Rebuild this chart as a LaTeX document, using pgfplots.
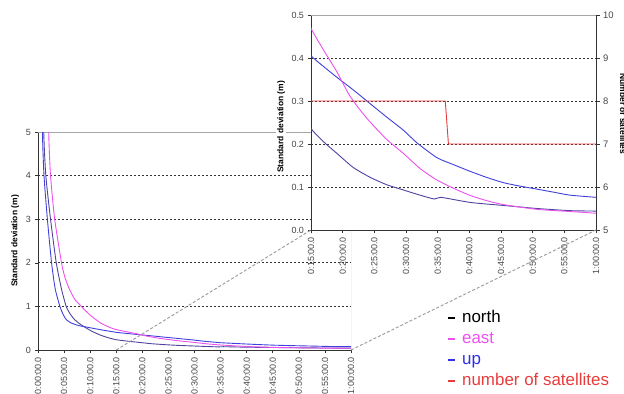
\documentclass[border=0pt]{standalone}
\usepackage{fontspec}
\setmainfont{Liberation Sans}
\usepackage{pgfplots}
\usepackage{pgfplotstable}
\pgfplotsset{compat=1.18}
\definecolor{cnorth}{RGB}{78,68,160}
\definecolor{cup}{RGB}{64,64,220}
\definecolor{ceast}{RGB}{238,80,238}
\definecolor{csat}{RGB}{232,60,60}
\definecolor{tkc}{RGB}{70,70,70}
\newcommand\tk{\fontsize{9}{10}\selectfont}
\newcommand\lb{\fontsize{8.5}{10}\selectfont\bfseries}

\pgfplotstableread{
t v
0.9 7
1.1 5
1.5 4
2.4 3
3.5 2
4.5 1.4
5.4 1
6.2 0.82
7 0.7
8 0.6
9.3 0.5
10.5 0.42
12 0.34
13.5 0.28
15 0.236
17 0.205
19.1 0.178
21.7 0.145
24.4 0.122
27 0.105
29.6 0.093
32 0.082
34.5 0.072
35.5 0.076
40.2 0.064
45.4 0.057
50.7 0.050
55.9 0.045
60 0.044
}\north

\pgfplotstableread{
t v
0.7 7
0.85 5
1.15 4
1.8 3
2.6 2
3.3 1.4
4.2 1
4.8 0.82
5.4 0.7
6.2 0.63
7 0.59
8 0.555
10 0.51
12 0.465
13.5 0.435
15 0.405
17 0.38
19.1 0.355
22 0.322
24.4 0.293
27 0.262
29.6 0.232
31.7 0.203
34.9 0.168
37.5 0.152
40.2 0.136
42.8 0.122
45.4 0.110
48 0.102
50.7 0.095
53.3 0.088
55.9 0.081
60 0.076
}\up

\pgfplotstableread{
t v
1.8 7
2.05 5
2.4 4
3.2 3
4.5 2
5.2 1.65
6 1.4
7 1.17
8.3 1
10 0.8
12 0.62
13.7 0.52
15 0.469
17 0.418
19 0.37
21 0.315
22.7 0.28
24.4 0.25
27 0.21
29.6 0.178
32.3 0.142
34.9 0.116
37.5 0.097
40.2 0.08
42.8 0.068
45.4 0.059
50.7 0.048
55.9 0.043
60 0.039
}\east

\pgfplotstableread{
t n
15 8
36.2 8
36.7 7
60 7
}\sats

\pgfplotsset{
  chartbase/.style={
    scale only axis,
    /pgf/number format/assume math mode=true,
    tick label style={font=\tk, text=tkc},
    tick style={black!80, line width=0.6bp},
    tick align=outside,
    major tick length=3.5bp,
    axis line style={black!80, line width=0.8bp},
    x tick label style={rotate=90, anchor=east},
    label style={font=\lb},
  },
  dottedgrid/.style={black!80, line width=0.9bp, dash pattern=on 2bp off 2bp},
  curve/.style={line width=0.9bp, smooth, tension=0.35},
}

\begin{document}
\begin{tikzpicture}
% main axis
\begin{axis}[chartbase,
  name=main,
  at={(38bp,44bp)}, anchor=south west,
  width=313bp, height=218bp,
  xmin=0, xmax=60, ymin=0, ymax=5,
  axis x line*=bottom, axis y line*=left,
  xtick={0,5,...,60},
  xticklabels={0:00:00.0,0:05:00.0,0:10:00.0,0:15:00.0,0:20:00.0,0:25:00.0,0:30:00.0,0:35:00.0,0:40:00.0,0:45:00.0,0:50:00.0,0:55:00.0,1:00:00.0},
  ytick={0,1,...,5},
  extra y ticks={1,2,3,4}, extra y tick labels={},
  extra y tick style={grid=major, major tick length=0pt},
  major grid style={dottedgrid},
  ylabel={Standard deviation (m)},
  ylabel style={at={(axis description cs:-0.073,0.5)}, anchor=center},
]
\draw[gray!70, line width=0.8bp] (rel axis cs:0,1) -- (rel axis cs:1,1) -- (rel axis cs:1,0);
\addplot[cnorth, curve] table[x=t, y=v] {\north};
\addplot[cup, curve] table[x=t, y=v] {\up};
\addplot[ceast, curve] table[x=t, y=v] {\east};
\coordinate (m1) at (axis cs:15,0);
\coordinate (m2) at (axis cs:60,0);
\end{axis}

% inset left axis
\begin{axis}[chartbase,
  name=inset,
  at={(311bp,164bp)}, anchor=south west,
  width=285bp, height=215bp,
  xmin=15, xmax=60, ymin=0, ymax=0.5,
  axis x line*=bottom, axis y line*=left,
  axis background/.style={fill=white},
  xtick={15,20,...,60},
  xticklabels={0:15:00.0,0:20:00.0,0:25:00.0,0:30:00.0,0:35:00.0,0:40:00.0,0:45:00.0,0:50:00.0,0:55:00.0,1:00:00.0},
  ytick={0,0.1,...,0.5},
  yticklabel style={/pgf/number format/.cd, fixed, fixed zerofill, precision=1},
  extra y ticks={0.1,0.2,0.3,0.4}, extra y tick labels={},
  extra y tick style={grid=major, major tick length=0pt},
  major grid style={dottedgrid},
  ylabel={Standard deviation (m)},
  ylabel style={at={(axis description cs:-0.105,0.48)}, anchor=center, fill=white, inner sep=1bp},
  legend style={at={(0.477,-0.367)}, anchor=north west, draw=none, fill=none,
    font=\fontsize{17}{20}\selectfont, inner sep=0pt, row sep=4bp,
    nodes={inner sep=1bp, text height=12bp, text depth=3bp},
    /tikz/every odd column/.append style={column sep=5bp}},
  legend cell align=left,
  legend image code/.code={\draw[#1, line width=2bp] (0bp,0bp) -- (7bp,0bp);},
]
\draw[gray!70, line width=0.8bp] (rel axis cs:0,1) -- (rel axis cs:1,1);
\addplot[cnorth, curve, forget plot] table[x=t, y=v] {\north};
\addplot[cup, curve, forget plot] table[x=t, y=v] {\up};
\addplot[ceast, curve, forget plot] table[x=t, y=v] {\east};
\addlegendimage{black}
\addlegendentry{north}
\addlegendimage{ceast}
\addlegendentry{\textcolor{ceast}{east}}
\addlegendimage{cup!80!blue}
\addlegendentry{\textcolor{cup!70!blue}{up}}
\addlegendimage{csat}
\addlegendentry{\textcolor{csat}{number of satellites}}
\coordinate (i1) at (rel axis cs:0,0);
\coordinate (i2) at (rel axis cs:1,0);
\end{axis}

% inset right axis
\begin{axis}[chartbase,
  at={(311bp,164bp)}, anchor=south west,
  width=285bp, height=215bp,
  xmin=15, xmax=60, ymin=5, ymax=10,
  axis x line=none, axis y line*=right,
  ytick={5,6,...,10},
  yticklabel style={font=\fontsize{9.5}{11}\selectfont},
  ylabel={Number of satellites},
  ylabel style={at={(axis description cs:1.095,0.54)}, anchor=center, rotate=180},
]
\addplot[csat, line width=0.9bp] table[x=t, y=n] {\sats};
\end{axis}

\draw[gray!80, line width=0.9bp, dash pattern=on 3bp off 2bp] (m1) -- (i1);
\draw[gray!80, line width=0.9bp, dash pattern=on 3bp off 2bp] (m2) -- (i2);

\pgfresetboundingbox
\useasboundingbox (0,0) rectangle (624bp,394bp);
\end{tikzpicture}
\end{document}
